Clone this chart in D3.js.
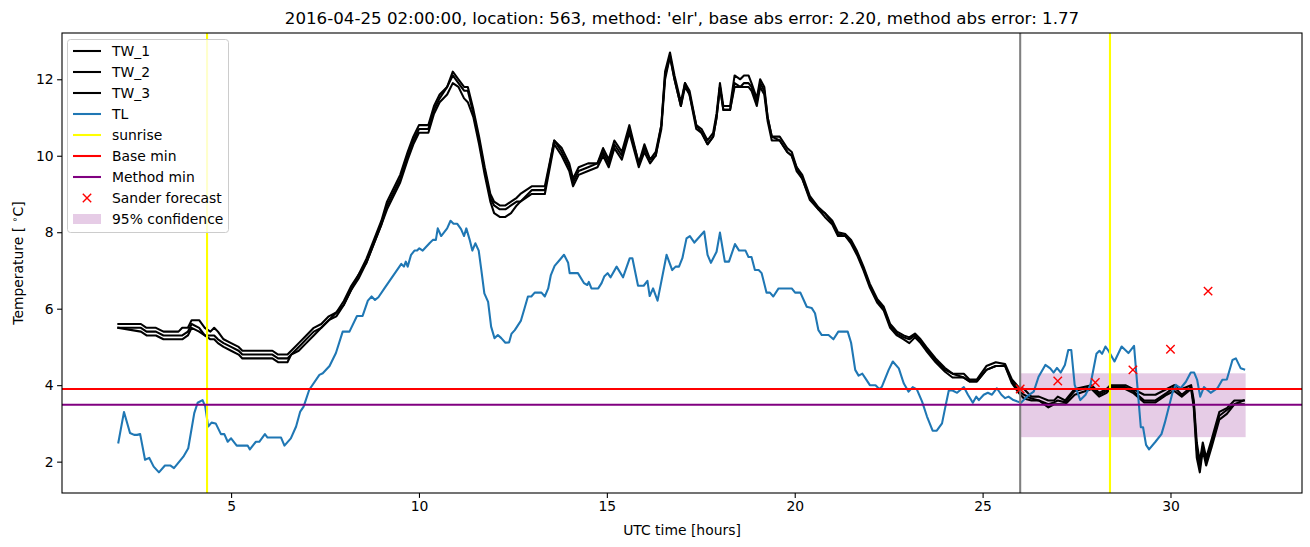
<!DOCTYPE html>
<html>
<head>
<meta charset="utf-8">
<script src="https://cdn.jsdelivr.net/npm/d3@7"></script>
<style>
  html, body { margin: 0; padding: 0; background: #fff; }
  text { font-family: "DejaVu Sans", sans-serif; }
</style>
</head>
<body>
<svg id="chart" width="1310" height="547"></svg>
<script>
// ---------------- data ----------------
const titleText = "2016-04-25 02:00:00, location: 563, method: 'elr', base abs error: 2.20, method abs error: 1.77";
const xTicks = [5, 10, 15, 20, 25, 30];
const yTicks = [2, 4, 6, 8, 10, 12];

const twHours = [2.0,2.6,2.75,3.0,3.2,3.6,3.7,3.85,3.95,4.15,4.3,4.45,4.55,4.65,4.8,5.0,5.2,5.3,6.1,6.25,6.5,6.6,6.8,7.0,7.2,7.4,7.6,7.8,8.0,8.2,8.4,8.6,8.8,9.0,9.15,9.3,9.5,9.7,9.85,10.0,10.25,10.4,10.55,10.75,10.9,11.05,11.2,11.3,11.45,11.6,11.75,11.9,12.0,12.15,12.3,12.45,12.6,12.7,13.0,13.35,13.6,13.8,14.0,14.1,14.25,14.5,14.75,14.9,15.05,15.2,15.4,15.6,15.85,16.0,16.15,16.3,16.45,16.55,16.68,16.8,16.97,17.08,17.2,17.38,17.52,17.68,17.83,17.92,18.01,18.1,18.28,18.4,18.55,18.65,18.77,18.85,18.99,19.08,19.19,19.28,19.39,19.6,19.8,19.92,20.05,20.2,20.4,20.63,20.8,21.0,21.15,21.35,21.5,21.66,21.83,22.0,22.2,22.37,22.54,22.72,22.9,23.05,23.2,23.35,23.5,23.75,24.0,24.2,24.5,24.65,24.85,25.1,25.35,25.6,25.78,25.96,26.1,26.3,26.5,26.75,26.9,27.0,27.2,27.45,27.9,28.1,28.3,28.4,28.8,29.0,29.3,29.6,29.9,30.1,30.3,30.55,30.62,30.7,30.78,30.86,30.95,31.1,31.3,31.5,31.7,31.95];
const tw1 = [5.6,5.6,5.5,5.5,5.4,5.4,5.5,5.5,5.7,5.7,5.5,5.4,5.5,5.4,5.2,5.1,5.0,4.9,4.9,4.8,4.8,4.9,5.1,5.3,5.5,5.6,5.8,5.9,6.2,6.6,6.9,7.3,7.8,8.3,8.8,9.1,9.5,10.1,10.5,10.8,10.8,11.3,11.6,11.8,12.2,12.0,11.8,11.8,11.2,10.5,9.7,9.0,8.8,8.7,8.7,8.8,8.9,9.0,9.2,9.2,10.4,10.2,9.8,9.4,9.7,9.8,9.8,10.2,9.9,10.4,10.1,10.8,9.8,10.3,9.9,10.1,10.8,12.2,12.7,12.1,11.4,11.9,11.7,10.8,10.7,10.4,10.6,11.1,11.9,11.3,11.3,12.1,12.0,12.1,12.1,11.9,11.5,12.0,11.8,11.0,10.5,10.5,10.2,10.1,9.7,9.5,8.95,8.65,8.5,8.3,8.0,7.95,7.8,7.5,7.1,6.65,6.25,6.05,5.6,5.4,5.3,5.25,5.35,5.2,5.0,4.7,4.45,4.3,4.3,4.15,4.15,4.5,4.6,4.55,4.15,3.95,3.9,3.7,3.7,3.6,3.6,3.7,3.6,3.9,4.0,3.8,3.9,4.0,4.0,3.9,3.75,3.75,3.9,4.0,3.9,4.0,3.6,2.5,2.0,2.5,2.1,2.6,3.3,3.4,3.6,3.6];
const tw2 = [5.5,5.5,5.4,5.4,5.3,5.3,5.3,5.4,5.6,5.5,5.3,5.3,5.3,5.2,5.1,5.0,4.9,4.8,4.8,4.7,4.7,4.8,5.0,5.2,5.4,5.5,5.7,5.9,6.1,6.5,6.9,7.2,7.7,8.2,8.7,9.0,9.4,10.0,10.4,10.7,10.7,11.2,11.5,11.8,12.1,11.9,11.7,11.7,11.1,10.4,9.6,8.9,8.7,8.6,8.6,8.7,8.8,8.8,9.1,9.1,10.4,10.1,9.7,9.3,9.6,9.7,9.8,10.1,9.8,10.3,10.0,10.7,9.8,10.2,9.9,10.0,10.8,12.1,12.6,12.0,11.3,11.9,11.6,10.8,10.6,10.3,10.5,11.0,11.8,11.2,11.2,11.9,11.8,11.9,11.9,11.8,11.4,11.9,11.7,11.0,10.5,10.4,10.1,10.0,9.7,9.4,8.9,8.6,8.5,8.25,7.95,7.9,7.75,7.45,7.05,6.6,6.2,6.0,5.55,5.35,5.25,5.2,5.3,5.15,4.95,4.65,4.4,4.3,4.2,4.1,4.1,4.4,4.5,4.5,4.1,3.85,3.75,3.65,3.6,3.5,3.55,3.6,3.55,3.85,3.95,3.75,3.85,3.95,3.95,3.85,3.6,3.6,3.8,3.95,3.75,3.95,3.5,2.3,1.85,2.4,2.0,2.5,3.2,3.35,3.5,3.6];
const tw3 = [5.5,5.4,5.3,5.3,5.2,5.2,5.2,5.3,5.5,5.4,5.3,5.2,5.2,5.1,5.0,4.9,4.8,4.7,4.7,4.6,4.6,4.8,4.9,5.1,5.3,5.5,5.7,5.8,6.1,6.5,6.8,7.2,7.7,8.2,8.6,8.9,9.3,9.9,10.3,10.6,10.6,11.1,11.4,11.6,11.9,11.8,11.5,11.4,11.0,10.3,9.5,8.8,8.5,8.4,8.4,8.5,8.7,8.8,9.0,9.0,10.3,10.0,9.6,9.2,9.5,9.6,9.7,10.0,9.7,10.2,9.9,10.6,9.7,10.1,9.8,10.0,10.7,12.0,12.6,12.0,11.3,11.8,11.6,10.7,10.6,10.3,10.5,11.0,11.8,11.2,11.2,11.8,11.8,11.8,11.8,11.7,11.3,11.8,11.6,10.9,10.4,10.4,10.1,10.0,9.6,9.4,8.85,8.6,8.4,8.2,7.9,7.9,7.7,7.4,7.0,6.55,6.15,5.95,5.5,5.3,5.2,5.1,5.25,5.1,4.9,4.6,4.35,4.2,4.2,4.1,4.1,4.4,4.5,4.5,4.05,3.8,3.65,3.6,3.6,3.42,3.5,3.5,3.5,3.75,3.9,3.7,3.8,3.9,3.9,3.8,3.55,3.55,3.75,3.85,3.7,3.9,3.4,2.1,1.72,2.3,1.9,2.4,3.1,3.25,3.5,3.5];

const tlHours = [2.0,2.15,2.31,2.42,2.5,2.58,2.71,2.82,2.94,3.08,3.24,3.38,3.48,3.73,3.86,4.02,4.11,4.24,4.31,4.39,4.48,4.59,4.73,4.82,4.91,5.0,5.15,5.44,5.5,5.66,5.75,5.9,5.97,6.33,6.42,6.59,6.73,6.84,6.93,7.08,7.35,7.44,7.62,7.79,7.97,8.15,8.35,8.5,8.64,8.74,8.83,8.92,9.08,9.53,9.6,9.65,9.7,9.79,9.88,9.95,10.01,10.1,10.28,10.37,10.45,10.5,10.59,10.75,10.84,10.92,11.02,11.12,11.2,11.26,11.35,11.42,11.5,11.59,11.66,11.74,11.84,11.92,12.01,12.1,12.19,12.3,12.4,12.46,12.55,12.71,12.81,12.9,12.99,13.08,13.26,13.35,13.44,13.51,13.61,13.75,13.86,13.97,14.01,14.23,14.39,14.48,14.52,14.59,14.77,14.86,14.93,15.02,15.1,15.26,15.43,15.61,15.68,15.83,15.98,16.08,16.14,16.23,16.35,16.59,16.74,16.83,16.92,17.01,17.12,17.21,17.33,17.59,17.68,17.77,17.92,18.01,18.14,18.25,18.41,18.52,18.69,18.77,18.85,18.94,19.04,19.12,19.25,19.34,19.43,19.57,19.92,20.01,20.15,20.32,20.45,20.54,20.63,20.72,20.9,21.03,21.16,21.41,21.5,21.61,21.7,21.8,21.9,22.0,22.15,22.25,22.32,22.5,22.61,22.77,22.9,23.03,23.14,23.25,23.39,23.52,23.67,23.78,23.92,24.01,24.1,24.2,24.32,24.5,24.61,24.74,24.83,24.9,25.03,25.14,25.25,25.38,25.5,25.6,25.69,25.82,26.02,26.2,26.36,26.49,26.67,26.8,26.89,26.98,27.08,27.19,27.28,27.36,27.45,27.6,27.74,27.87,28.03,28.11,28.18,28.27,28.35,28.51,28.7,28.88,29.03,29.12,29.21,29.27,29.35,29.43,29.6,29.76,29.85,29.96,30.05,30.14,30.27,30.41,30.54,30.63,30.71,30.79,30.89,31.07,31.25,31.38,31.5,31.65,31.74,31.87,31.96];
const tlValues = [2.5,3.3,2.75,2.7,2.7,2.72,2.05,2.1,1.87,1.72,1.9,1.9,1.83,2.13,2.35,3.27,3.54,3.61,3.45,2.92,3.02,3.0,2.72,2.72,2.52,2.61,2.42,2.42,2.32,2.52,2.52,2.72,2.63,2.63,2.42,2.61,2.92,3.31,3.44,3.88,4.27,4.31,4.5,4.84,5.4,5.4,5.81,5.81,6.21,6.32,6.23,6.3,6.53,7.17,7.1,7.23,7.1,7.41,7.52,7.52,7.58,7.52,7.71,7.8,7.8,8.1,7.9,8.1,8.3,8.22,8.22,8.08,7.9,8.1,7.8,7.52,7.71,7.52,7.01,6.4,6.18,5.53,5.23,5.31,5.23,5.11,5.12,5.34,5.44,5.68,6.01,6.32,6.32,6.42,6.42,6.32,6.53,6.88,7.12,7.28,7.41,7.2,6.93,6.93,6.67,6.62,6.7,6.53,6.53,6.67,6.84,6.93,6.82,7.1,6.82,7.32,7.32,6.6,6.6,6.73,6.33,6.53,6.21,7.41,7.01,7.1,7.1,7.32,7.84,7.9,7.73,8.02,7.41,7.2,7.49,7.99,7.23,7.23,7.69,7.52,7.52,7.35,7.35,7.01,7.01,6.93,6.42,6.42,6.32,6.53,6.53,6.42,6.42,6.05,6.02,5.88,5.44,5.31,5.31,5.2,5.4,5.4,5.11,4.4,4.25,4.3,4.15,4.0,4.0,3.9,3.96,4.4,4.62,4.44,4.05,3.83,3.95,3.89,3.57,3.18,2.81,2.81,3.0,3.44,3.86,3.86,3.8,3.95,3.75,3.54,3.7,3.61,3.75,3.8,3.75,3.92,3.75,3.66,3.7,3.61,3.54,3.72,3.83,4.22,4.53,4.44,4.33,4.45,4.33,4.53,4.92,4.92,4.01,3.61,3.75,4.01,4.82,4.9,4.82,5.01,4.9,4.62,5.01,4.84,5.03,3.96,2.9,2.9,2.44,2.32,2.52,2.72,3.02,3.44,3.79,4.01,3.92,4.09,4.33,4.33,4.14,3.7,3.95,3.8,3.92,4.14,4.15,4.66,4.7,4.44,4.41];

const sunriseHours = [4.36, 28.39];
const forecastStart = 26.0;
const baseMin = 3.9;
const methodMin = 3.49;
const sanderHours = [26, 27, 28, 29, 30, 31];
const sanderValues = [3.90, 4.11, 4.07, 4.40, 4.94, 6.46];
const confStart = 26.0, confEnd = 32.0;
const confLow = 2.64, confHigh = 4.31;

const legendLabels = ["TW_1", "TW_2", "TW_3", "TL", "sunrise", "Base min", "Method min", "Sander forecast", "95% confidence"];

// ---------------- layout ----------------
const M = { left: 62, right: 1302, top: 33, bottom: 493 };
const LW = 2.08;
const svg = d3.select("#chart");

const x = d3.scaleLinear().domain([0.5, 33.5]).range([M.left, M.right]);
const y = d3.scaleLinear().domain([1.18, 13.21]).range([M.bottom, M.top]);

svg.append("defs").append("clipPath").attr("id", "clip")
  .append("rect").attr("x", M.left).attr("y", M.top)
  .attr("width", M.right - M.left).attr("height", M.bottom - M.top);

const plot = svg.append("g").attr("clip-path", "url(#clip)");

// confidence band
plot.append("rect")
  .attr("x", x(confStart)).attr("y", y(confHigh))
  .attr("width", x(confEnd) - x(confStart)).attr("height", y(confLow) - y(confHigh))
  .attr("fill", "purple").attr("fill-opacity", 0.2);

const line = d3.line().x(d => x(d[0])).y(d => y(d[1]));

[tw1, tw2, tw3].forEach(vals => {
  plot.append("path").datum(twHours.map((h, i) => [h, vals[i]]))
    .attr("d", line).attr("fill", "none").attr("stroke", "black")
    .attr("stroke-width", LW).attr("stroke-linejoin", "round").attr("stroke-linecap", "square");
});

plot.append("path").datum(tlHours.map((h, i) => [h, tlValues[i]]))
  .attr("d", line).attr("fill", "none").attr("stroke", "#1f77b4")
  .attr("stroke-width", LW).attr("stroke-linejoin", "round").attr("stroke-linecap", "square");

// vertical lines
sunriseHours.forEach(h => {
  plot.append("line").attr("x1", x(h)).attr("x2", x(h))
    .attr("y1", M.top).attr("y2", M.bottom)
    .attr("stroke", "yellow").attr("stroke-width", LW);
});
plot.append("line").attr("x1", x(forecastStart)).attr("x2", x(forecastStart))
  .attr("y1", M.top).attr("y2", M.bottom)
  .attr("stroke", "grey").attr("stroke-width", LW);

// horizontal lines
plot.append("line").attr("x1", M.left).attr("x2", M.right)
  .attr("y1", y(baseMin)).attr("y2", y(baseMin))
  .attr("stroke", "red").attr("stroke-width", LW);
plot.append("line").attr("x1", M.left).attr("x2", M.right)
  .attr("y1", y(methodMin)).attr("y2", y(methodMin))
  .attr("stroke", "purple").attr("stroke-width", LW);

// sander forecast markers
const xm = 4.2;
sanderHours.forEach((h, i) => {
  const cx = x(h), cy = y(sanderValues[i]);
  plot.append("path")
    .attr("d", `M${cx - xm},${cy - xm}L${cx + xm},${cy + xm}M${cx - xm},${cy + xm}L${cx + xm},${cy - xm}`)
    .attr("stroke", "red").attr("stroke-width", 1.4).attr("fill", "none");
});

// axes
const xAxis = svg.append("g").attr("transform", `translate(0,${M.bottom})`)
  .call(d3.axisBottom(x).tickValues(xTicks).tickSize(4.9).tickPadding(3.5).tickFormat(d3.format("d")));
const yAxis = svg.append("g").attr("transform", `translate(${M.left},0)`)
  .call(d3.axisLeft(y).tickValues(yTicks).tickSize(4.9).tickPadding(3.5).tickFormat(d3.format("d")));
[xAxis, yAxis].forEach(a => {
  a.select(".domain").remove();
  a.selectAll("line").attr("stroke", "black").attr("stroke-width", 1.1);
  a.selectAll("text").attr("font-size", "13.9px").attr("font-family", "DejaVu Sans").attr("fill", "black");
});

// frame
svg.append("rect").attr("x", M.left).attr("y", M.top)
  .attr("width", M.right - M.left).attr("height", M.bottom - M.top)
  .attr("fill", "none").attr("stroke", "black").attr("stroke-width", 1.1);

// title & labels
svg.append("text").attr("x", (M.left + M.right) / 2).attr("y", 24)
  .attr("text-anchor", "middle").attr("font-size", "16.67px").text(titleText);
svg.append("text").attr("x", (M.left + M.right) / 2).attr("y", 535)
  .attr("text-anchor", "middle").attr("font-size", "13.9px").text("UTC time [hours]");
const yl = svg.append("text")
  .attr("transform", `translate(23,${(M.top + M.bottom) / 2}) rotate(-90)`)
  .attr("text-anchor", "middle").attr("font-size", "13.9px");
yl.append("tspan").text("Temperature [ ");
yl.append("tspan").attr("font-size", "9.7px").attr("dy", -5).text("∘");
yl.append("tspan").attr("dy", 5).text("C]");

// legend
const lg = svg.append("g");
lg.append("rect").attr("x", 67.5).attr("y", 39.5).attr("width", 161).attr("height", 193)
  .attr("rx", 3).attr("fill", "white").attr("fill-opacity", 0.8)
  .attr("stroke", "#cccccc").attr("stroke-width", 1);
const legendStyles = [
  { type: "line", color: "black" },
  { type: "line", color: "black" },
  { type: "line", color: "black" },
  { type: "line", color: "#1f77b4" },
  { type: "line", color: "yellow" },
  { type: "line", color: "red" },
  { type: "line", color: "purple" },
  { type: "x", color: "red" },
  { type: "patch", color: "purple" }
];
legendLabels.forEach((lab, i) => {
  const cy = 51 + i * 21;
  const st = legendStyles[i];
  if (st.type === "line") {
    lg.append("line").attr("x1", 73).attr("x2", 101).attr("y1", cy).attr("y2", cy)
      .attr("stroke", st.color).attr("stroke-width", LW);
  } else if (st.type === "x") {
    const cx = 87;
    lg.append("path").attr("d", `M${cx - xm},${cy - xm}L${cx + xm},${cy + xm}M${cx - xm},${cy + xm}L${cx + xm},${cy - xm}`)
      .attr("stroke", "red").attr("stroke-width", 1.4);
  } else {
    lg.append("rect").attr("x", 73).attr("y", cy - 5).attr("width", 28).attr("height", 10)
      .attr("fill", st.color).attr("fill-opacity", 0.2);
  }
  lg.append("text").attr("x", 112).attr("y", cy + 5).attr("font-size", "13.9px").text(lab);
});
</script>
</body>
</html>
